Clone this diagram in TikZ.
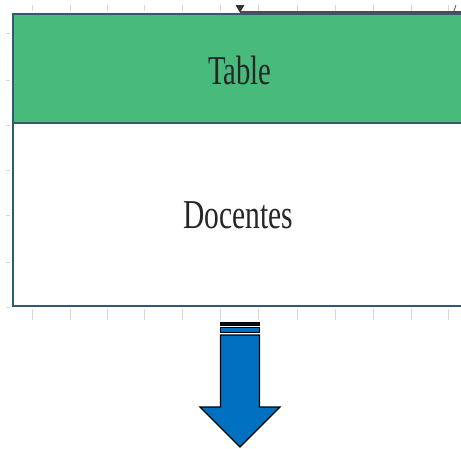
\documentclass[tikz,border=0pt]{standalone}
\usepackage{fontspec}
\setmainfont{Liberation Serif}
\usetikzlibrary{calc}
\definecolor{hdrgreen}{HTML}{48BA7C}
\definecolor{frameblue}{HTML}{2F5D70}
\definecolor{arrowblue}{HTML}{0070C0}
\definecolor{tickgray}{HTML}{D8D8D8}
\tikzset{
  tick/.style={draw=tickgray, line width=1pt},
  frame/.style={draw=frameblue, line width=2pt},
  label/.style={font=\fontsize{41}{41}\selectfont, text=black!85, inner sep=0pt},
  arrowpart/.style={draw=black, line width=1.2pt, fill=arrowblue}
}
\begin{document}
\begin{tikzpicture}[x=1pt,y=-1pt]
\useasboundingbox (0,0) rectangle (461,448);
\fill[white] (0,0) rectangle (461,448);

% ruler ticks, top and bottom
\foreach \tx in {32,70,107,144,182,220,258,297,335,373,411,448} {
  \draw[tick] (\tx,5) -- (\tx,11);
  \draw[tick] (\tx,309) -- (\tx,320);
}
% ruler ticks, left
\foreach \ty in {33,80,125,170,215,262,307} {
  \draw[tick] (6,\ty) -- (10,\ty);
}

% table frame
\coordinate (tl) at (12.5,13.5);
\coordinate (tr) at (470,13.5);
\coordinate (ml) at (12.5,123);
\coordinate (mr) at (470,123);
\coordinate (bl) at (12.5,306);
\coordinate (br) at (470,306);
\fill[hdrgreen] (tl) rectangle (mr);
\draw[frame] (tr) -- (tl) -- (bl) -- (br);
\draw[frame] (ml) -- (mr);

% selection marker on the top edge
\coordinate (mk) at (240,12);
\draw[black!70, line width=1.4pt] (mk) -- (470,12);
\fill[black!80] (235.5,5) -- (244.5,5) -- (240,12.5) -- cycle;
\draw[black!60, line width=0.8pt] (454,11) -- (456,5);

\node[label] (title) at (240,70) {\scalebox{0.70}[1]{Table}};
\node[label] (name) at (238,215) {\scalebox{0.72}[1]{Docentes}};

% block arrow pointing down
\coordinate (top) at (240,322);
\draw[draw=black, line width=1pt, fill=black!85!arrowblue] (220.5,322) rectangle (259.5,325.5);
\draw[arrowpart, line width=1pt] (220.5,327.5) rectangle (259.5,332);
\draw[arrowpart] (220.5,335) -- (259.5,335) -- (259.5,407) -- (280,407)
  -- (240,447) -- (200,407) -- (220.5,407) -- cycle;
\end{tikzpicture}
\end{document}
